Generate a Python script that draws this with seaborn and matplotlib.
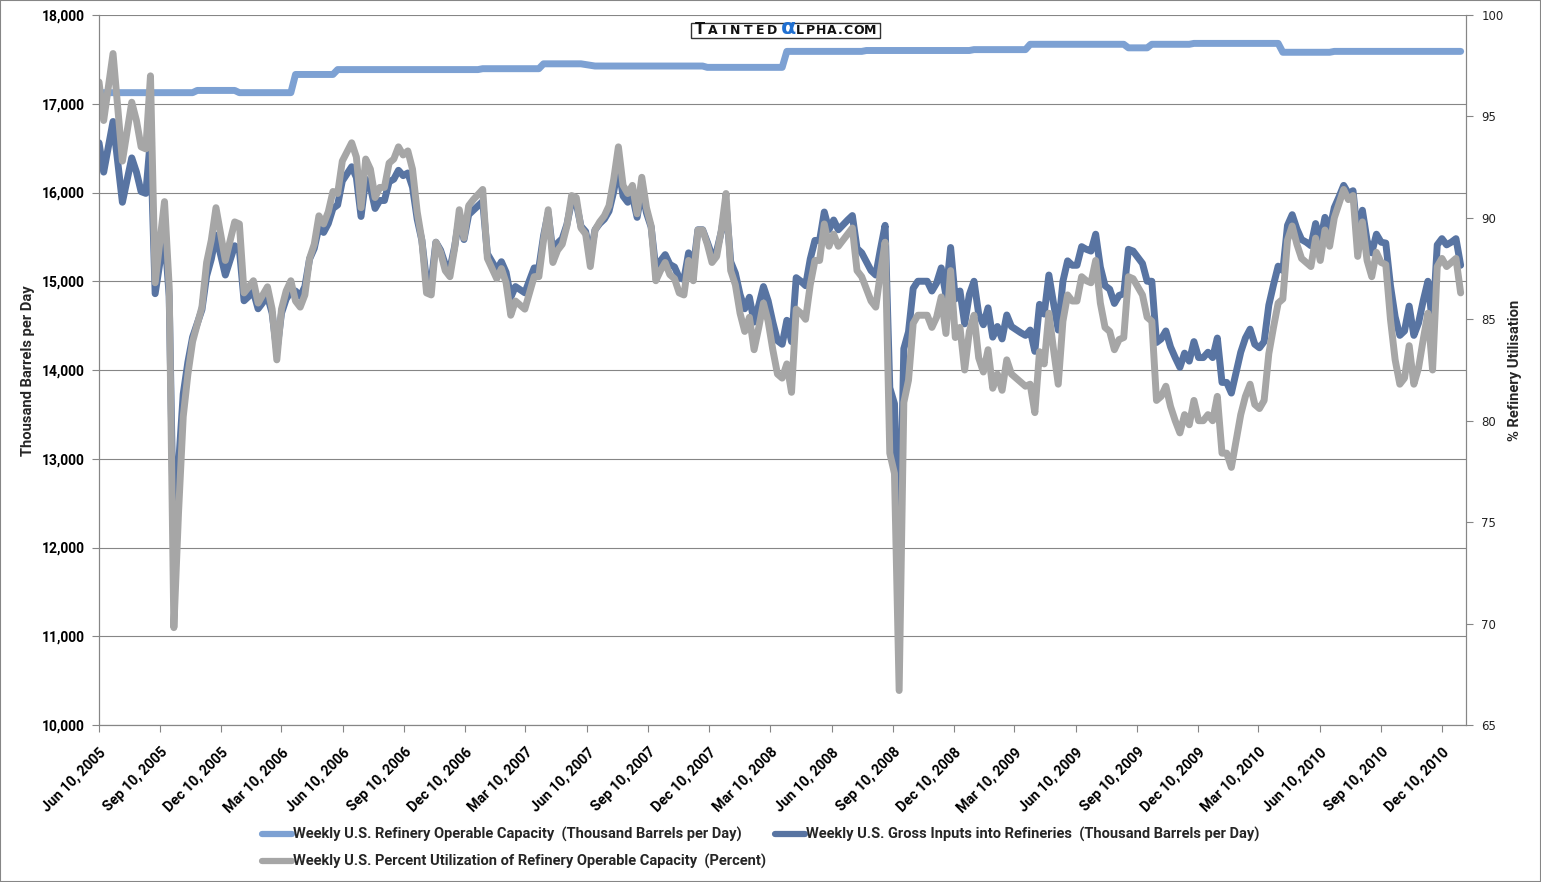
import pandas as pd
import seaborn as sns
import matplotlib
matplotlib.use('Agg')
import matplotlib.pyplot as plt
import matplotlib.dates as mdates
from matplotlib.lines import Line2D
from matplotlib.patches import Rectangle
from matplotlib.ticker import FuncFormatter

# weekly data, week 0 = Jun 10, 2005
start = pd.Timestamp('2005-06-10')

cap_weeks = [0, 20, 21, 29, 30, 41, 42, 50, 51, 81, 82, 94, 95, 103, 106, 129, 130, 146, 147,
             163, 164, 186, 187, 198, 199, 219, 220, 224, 225, 233, 234, 252, 253, 263, 264, 291]
cap_vals = [17125, 17125, 17150, 17150, 17125, 17125, 17330, 17330, 17385, 17385, 17395, 17395,
            17450, 17450, 17425, 17425, 17410, 17410, 17590, 17590, 17600, 17600, 17610, 17610,
            17670, 17670, 17630, 17630, 17670, 17670, 17680, 17680, 17580, 17580, 17590, 17590]

weeks = [0, 1, 3, 5, 7, 8, 9, 10, 11, 12, 14, 15, 16, 17, 18, 19, 20, 22, 23, 24, 25, 27, 29, 30,
         31, 33, 34, 35, 36, 37, 38, 39, 40, 41, 42, 43, 44, 45, 46, 47, 48, 49, 50, 51, 52, 54,
         55, 56, 57, 58, 59, 60, 61, 62, 63, 64, 65, 66, 67, 68, 69, 70, 71, 72, 73, 74, 75, 76,
         77, 78, 79, 80, 82, 83, 84, 85, 86, 87, 88, 89, 91, 92, 93, 94, 95, 96, 97, 98, 99, 100,
         101, 102, 103, 104, 105, 106, 107, 108, 109, 110, 111, 112, 113, 114, 115, 116, 117, 118,
         119, 120, 121, 122, 123, 124, 125, 126, 127, 128, 129, 130, 131, 132, 133, 134, 135, 136,
         137, 138, 139, 140, 141, 142, 143, 144, 145, 146, 147, 148, 149, 150, 151, 152, 153, 154,
         155, 156, 157, 158, 160, 161, 162, 163, 165, 166, 167, 168, 169, 170, 171, 172, 173, 174,
         175, 177, 178, 179, 180, 181, 182, 183, 184, 185, 186, 187, 188, 189, 190, 191, 192, 193,
         194, 195, 197, 198, 199, 200, 201, 202, 203, 204, 205, 206, 207, 208, 209, 210, 211, 212,
         213, 214, 215, 216, 217, 218, 219, 220, 221, 223, 224, 225, 226, 227, 228, 229, 230, 231,
         232, 233, 234, 235, 236, 237, 238, 239, 240, 241, 242, 243, 244, 245, 246, 247, 248, 249,
         250, 251, 252, 253, 254, 255, 256, 257, 258, 259, 260, 261, 262, 263, 264, 265, 266, 267,
         268, 269, 270, 271, 272, 273, 274, 275, 276, 277, 278, 279, 280, 281, 282, 283, 284, 285,
         286, 287, 288, 289, 290, 291]

util_pct = [96.7, 94.8, 98.1, 92.8, 95.7, 94.8, 93.5, 93.4, 97.0, 86.8, 90.8, 86.6, 69.8, 75.5,
            80.2, 82.3, 83.9, 85.6, 87.8, 88.9, 90.5, 87.9, 89.8, 89.7, 86.3, 86.9, 85.8, 86.2,
            86.6, 85.5, 83.0, 85.5, 86.4, 86.9, 85.9, 85.6, 86.2, 88.0, 88.7, 90.1, 89.7, 90.3,
            91.3, 91.2, 92.8, 93.7, 93.0, 90.5, 92.9, 92.4, 91.0, 91.5, 91.5, 92.7, 92.9, 93.5,
            93.1, 93.3, 92.4, 90.3, 88.9, 86.3, 86.2, 88.8, 88.3, 87.4, 87.1, 88.5, 90.4, 89.0,
            90.6, 90.9, 91.4, 88.0, 87.5, 87.0, 87.5, 86.8, 85.2, 85.9, 85.5, 86.3, 87.1, 87.1,
            88.9, 90.4, 87.8, 88.4, 88.7, 89.6, 91.1, 91.0, 89.5, 89.2, 87.6, 89.4, 89.8, 90.1,
            90.6, 91.9, 93.5, 91.6, 91.2, 91.6, 90.2, 92.0, 90.5, 89.6, 86.9, 87.4, 87.8, 87.2,
            87.0, 86.3, 86.2, 87.9, 86.9, 89.4, 89.4, 88.7, 87.8, 88.1, 89.4, 91.2, 87.4, 86.7,
            85.3, 84.4, 85.1, 83.5, 84.6, 85.8, 84.9, 83.5, 82.3, 82.1, 82.8, 81.4, 85.5, 85.3,
            85.0, 86.7, 87.9, 87.9, 89.7, 88.6, 89.2, 88.6, 89.2, 89.5, 87.4, 87.1, 85.9, 85.6,
            87.3, 88.8, 78.4, 77.4, 66.7, 80.9, 82.0, 84.8, 85.2, 85.2, 84.6, 85.1, 86.1, 84.3,
            87.4, 84.1, 84.6, 82.5, 84.4, 85.2, 83.1, 82.4, 83.5, 81.6, 82.3, 81.5, 83.0, 82.3,
            81.9, 81.7, 81.8, 80.4, 83.4, 82.8, 85.3, 83.5, 81.8, 84.9, 86.2, 85.9, 85.9, 87.1,
            86.9, 86.8, 87.9, 85.8, 84.6, 84.4, 83.5, 84.0, 84.1, 87.1, 87.0, 86.2, 85.1, 84.9,
            81.0, 81.2, 81.7, 80.7, 80.0, 79.4, 80.3, 79.8, 81.0, 80.0, 80.0, 80.3, 80.0, 81.2,
            78.4, 78.4, 77.7, 79.0, 80.3, 81.2, 81.8, 80.8, 80.6, 81.0, 83.3, 84.6, 85.8, 86.0,
            88.9, 89.6, 88.7, 88.0, 87.8, 87.6, 89.0, 87.9, 89.4, 88.6, 90.0, 90.7, 91.4, 90.9,
            91.1, 88.1, 89.8, 87.9, 87.1, 88.3, 87.8, 87.7, 85.0, 83.0, 81.8, 82.1, 83.7, 81.8,
            82.6, 84.0, 85.3, 82.5, 87.6, 88.0, 87.6, 87.8, 88.0, 86.3]

gross_vals = [16560, 16230, 16800, 15890, 16390, 16230, 16010, 15990, 16610, 14860, 15550, 14830,
              11950, 12930, 13730, 14090, 14370, 14680, 15060, 15250, 15520, 15070, 15400, 15360,
              14780, 14880, 14690, 14760, 14830, 14640, 14210, 14640, 14800, 14880, 14890, 14830,
              14940, 15250, 15370, 15610, 15550, 15650, 15820, 15860, 16130, 16290, 16170, 15730,
              16150, 16060, 15820, 15910, 15910, 16120, 16150, 16250, 16190, 16220, 16060, 15700,
              15460, 15000, 14990, 15440, 15350, 15190, 15140, 15390, 15720, 15470, 15750, 15800,
              15900, 15310, 15220, 15130, 15220, 15100, 14820, 14940, 14870, 15010, 15150, 15150,
              15510, 15770, 15320, 15430, 15480, 15640, 15900, 15880, 15620, 15560, 15280, 15580,
              15650, 15700, 15790, 16010, 16290, 15960, 15890, 15960, 15720, 16030, 15770, 15610,
              15140, 15230, 15300, 15190, 15160, 15040, 15020, 15320, 15140, 15580, 15580, 15440,
              15290, 15340, 15560, 15880, 15220, 15090, 14850, 14690, 14820, 14540, 14730, 14940,
              14780, 14540, 14330, 14290, 14560, 14320, 15040, 15000, 14950, 15250, 15460, 15460,
              15780, 15580, 15690, 15580, 15690, 15740, 15370, 15320, 15120, 15070, 15360, 15630,
              13800, 13620, 11740, 14240, 14430, 14920, 15000, 15000, 14890, 14980, 15150, 14840,
              15380, 14800, 14890, 14520, 14850, 15000, 14630, 14510, 14700, 14370, 14490, 14350,
              14620, 14490, 14420, 14390, 14450, 14210, 14740, 14630, 15070, 14750, 14450, 15000,
              15230, 15180, 15180, 15390, 15360, 15340, 15530, 15160, 14950, 14910, 14750, 14840,
              14860, 15360, 15340, 15200, 15000, 15000, 14310, 14350, 14440, 14260, 14140, 14030,
              14190, 14100, 14320, 14140, 14140, 14200, 14140, 14360, 13860, 13860, 13740, 13970,
              14200, 14360, 14460, 14290, 14250, 14320, 14730, 14960, 15170, 15120, 15630, 15750,
              15590, 15470, 15440, 15400, 15650, 15450, 15720, 15580, 15830, 15950, 16080, 15990,
              16020, 15500, 15800, 15460, 15320, 15530, 15440, 15430, 14950, 14600, 14390, 14440,
              14720, 14390, 14530, 14780, 15000, 14510, 15410, 15480, 15410, 15440, 15480, 15180]

labels = ['Weekly U.S. Refinery Operable Capacity  (Thousand Barrels per Day)',
          'Weekly U.S. Gross Inputs into Refineries  (Thousand Barrels per Day)',
          'Weekly U.S. Percent Utilization of Refinery Operable Capacity  (Percent)']
colors = ['#7DA1D3', '#5874A2', '#A6A6A6']

cap_dates = start + pd.to_timedelta([w * 7 for w in cap_weeks], unit='D')
dates = start + pd.to_timedelta([w * 7 for w in weeks], unit='D')

sns.set_theme(style='white')
plt.rcParams['font.family'] = ['Roboto', 'DejaVu Sans']

W, H = 1541, 882
fig = plt.figure(figsize=(W / 100, H / 100), dpi=100)
ax = fig.add_axes([99 / W, 1 - 725 / H, (1466 - 99) / W, (725 - 15) / H])
ax2 = ax.twinx()

gcol = '#868686'
lw = 5

sns.lineplot(x=cap_dates, y=cap_vals, ax=ax, color=colors[0], lw=lw, estimator=None, sort=False)
sns.lineplot(x=dates, y=gross_vals, ax=ax, color=colors[1], lw=lw, estimator=None, sort=False)
sns.lineplot(x=dates, y=util_pct, ax=ax2, color=colors[2], lw=lw, estimator=None, sort=False)

ax.set_ylim(10000, 18000)
ax.set_yticks(range(10000, 18001, 1000))
ax.yaxis.set_major_formatter(FuncFormatter(lambda v, p: f'{int(v):,}'))
ax2.set_ylim(65, 100)
ax2.set_yticks(range(65, 101, 5))

tick_dates = [pd.Timestamp(y, m, 10) for y in range(2005, 2011) for m in (3, 6, 9, 12)]
tick_dates = [d for d in tick_dates if pd.Timestamp('2005-06-10') <= d <= pd.Timestamp('2010-12-10')]
ax.set_xlim(pd.Timestamp('2005-06-10'), pd.Timestamp('2011-01-15'))
ax.set_xticks(tick_dates)
ax.xaxis.set_major_formatter(mdates.DateFormatter('%b %d, %Y'))

ax.grid(axis='y', color=gcol, lw=0.8)
ax.grid(axis='x', visible=False)
ax2.grid(False)
ax.set_xlabel('')
ax.set_ylabel('')
ax2.set_ylabel('')

for a in (ax, ax2):
    for s in a.spines.values():
        s.set_color(gcol)
        s.set_linewidth(0.8)
    a.spines['top'].set_visible(False)

ax.tick_params(axis='y', left=True, length=5, width=0.8, color=gcol, pad=5,
               labelsize=10, labelcolor='black')
ax.tick_params(axis='x', bottom=True, length=5, width=0.8, color=gcol, pad=9.5,
               labelsize=10.3, labelcolor='black')
ax2.tick_params(axis='y', right=True, length=5, width=0.8, color=gcol, pad=6,
                labelsize=8.5, labelcolor='#222222')
for t in ax.get_yticklabels():
    t.set_fontweight('bold')
for t in ax.get_xticklabels():
    t.set_fontweight('bold')
    t.set_rotation(45)
    t.set_ha('right')
    t.set_va('top')
    t.set_rotation_mode('anchor')
for t in ax2.get_yticklabels():
    t.set_family('DejaVu Sans')

fig.text(28 / W, 1 - 371 / H, 'Thousand Barrels per Day', rotation=90, ha='center', va='center',
         fontsize=10.6, fontweight='bold')
fig.text(1515 / W, 1 - 370 / H, '% Refinery Utilisation', rotation=90, ha='center', va='center',
         fontsize=10.6, fontweight='bold')

# watermark box with spaced small-caps style lettering
fig.patches.append(Rectangle((691 / W, 1 - 38 / H), (880 - 691) / W, 15 / H, transform=fig.transFigure,
                             facecolor='white', edgecolor='#333333', lw=1, zorder=5))
base = 1 - 34.5 / H
wm = dict(va='baseline', ha='center', fontweight='bold', family='DejaVu Sans', color='#111111', zorder=6)
fig.text(700 / W, base, 'T', fontsize=10.5, **wm)
for ch, xc in zip('AINTED', [713, 724, 735, 748, 760, 772]):
    fig.text(xc / W, base, ch, fontsize=9, **wm)
fig.text(788 / W, base, '\u03b1', fontsize=16, ha='center', va='baseline', fontweight='bold',
         family='DejaVu Sans', color='#1F6FD0', zorder=6)
for ch, xc in zip('LPHA.COM', [800, 810, 821, 832, 840, 848, 859, 870]):
    fig.text(xc / W, base, ch, fontsize=9, **wm)

handles = [Line2D([], [], color=colors[0], lw=4.5),
           Line2D([], [], color=colors[2], lw=4.5),
           Line2D([], [], color=colors[1], lw=4.5)]
fig.legend(handles, [labels[0], labels[2], labels[1]], ncol=2, loc='upper left',
           bbox_to_anchor=(262 / W, 1 - 827 / H), frameon=False, borderpad=0, borderaxespad=0,
           handlelength=2.05, handletextpad=0.07, columnspacing=0.6, labelspacing=0.85,
           prop={'family': 'Roboto', 'weight': 'bold', 'size': 10.5})

# outer border
fig.patches.append(Rectangle((0, 0), 1, 1, transform=fig.transFigure, fill=False,
                             edgecolor=gcol, lw=1.5))

fig.savefig('out.png', dpi=100)
